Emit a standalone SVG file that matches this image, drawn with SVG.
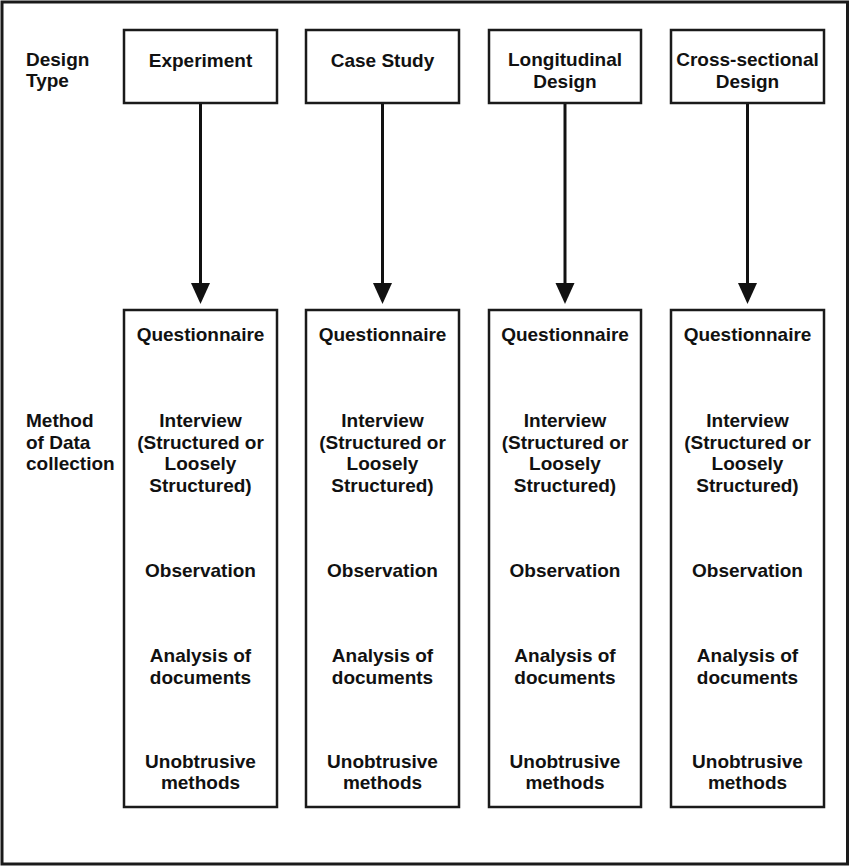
<svg xmlns="http://www.w3.org/2000/svg" width="850" height="866" viewBox="0 0 850 866">
<style>
.box{fill:#fff;stroke:#1a1a1a;stroke-width:2.5}
text{font-family:"Liberation Sans",Arial,sans-serif;font-weight:bold;font-size:19px;fill:#111}
.c{text-anchor:middle}
.conn line{stroke:#111;stroke-width:3}
</style>
<defs>
<marker id="ah" markerUnits="userSpaceOnUse" markerWidth="20" markerHeight="22" refX="10" refY="21" orient="auto-start-reverse" viewBox="0 0 20 22">
<path d="M0,0 L20,0 L10,22 Z" fill="#111" transform="rotate(0)"/>
</marker>
</defs>
<rect x="0" y="0" width="850" height="866" fill="#fff"/>
<rect x="2" y="2" width="845.5" height="862" fill="none" stroke="#1a1a1a" stroke-width="3"/>
<g id="labels">
<text x="26" y="66">Design</text>
<text x="26" y="87">Type</text>
<text x="26" y="427">Method</text>
<text x="26" y="449">of Data</text>
<text x="26" y="470">collection</text>
</g>
<g class="conn" id="connectors">
<line x1="200.5" y1="103" x2="200.5" y2="284"/>
<path d="M191,283 L210,283 L200.5,304 Z" fill="#111"/>
<line x1="382.5" y1="103" x2="382.5" y2="284"/>
<path d="M373,283 L392,283 L382.5,304 Z" fill="#111"/>
<line x1="565" y1="103" x2="565" y2="284"/>
<path d="M555.5,283 L574.5,283 L565,304 Z" fill="#111"/>
<line x1="747.5" y1="103" x2="747.5" y2="284"/>
<path d="M738,283 L757,283 L747.5,304 Z" fill="#111"/>
</g>
<g id="top-experiment"><rect class="box" x="124" y="30" width="153" height="73"/><text class="c" x="200.5" y="67">Experiment</text></g>
<g id="top-casestudy"><rect class="box" x="306" y="30" width="153" height="73"/><text class="c" x="382.5" y="67">Case Study</text></g>
<g id="top-longitudinal"><rect class="box" x="489" y="30" width="152" height="73"/><text class="c" x="565" y="66">Longitudinal</text><text class="c" x="565" y="88">Design</text></g>
<g id="top-cross"><rect class="box" x="671" y="30" width="153" height="73"/><text class="c" x="747.5" y="66">Cross-sectional</text><text class="c" x="747.5" y="88">Design</text></g>
<g id="m1"><rect class="box" x="124" y="310" width="153" height="497"/>
<text class="c" x="200.5" y="341">Questionnaire</text>
<text class="c" x="200.5" y="427">Interview</text><text class="c" x="200.5" y="449">(Structured or</text><text class="c" x="200.5" y="470">Loosely</text><text class="c" x="200.5" y="492">Structured)</text>
<text class="c" x="200.5" y="577">Observation</text>
<text class="c" x="200.5" y="662">Analysis of</text><text class="c" x="200.5" y="684">documents</text>
<text class="c" x="200.5" y="768">Unobtrusive</text><text class="c" x="200.5" y="789">methods</text></g>
<g id="m2"><rect class="box" x="306" y="310" width="153" height="497"/>
<text class="c" x="382.5" y="341">Questionnaire</text>
<text class="c" x="382.5" y="427">Interview</text><text class="c" x="382.5" y="449">(Structured or</text><text class="c" x="382.5" y="470">Loosely</text><text class="c" x="382.5" y="492">Structured)</text>
<text class="c" x="382.5" y="577">Observation</text>
<text class="c" x="382.5" y="662">Analysis of</text><text class="c" x="382.5" y="684">documents</text>
<text class="c" x="382.5" y="768">Unobtrusive</text><text class="c" x="382.5" y="789">methods</text></g>
<g id="m3"><rect class="box" x="489" y="310" width="152" height="497"/>
<text class="c" x="565" y="341">Questionnaire</text>
<text class="c" x="565" y="427">Interview</text><text class="c" x="565" y="449">(Structured or</text><text class="c" x="565" y="470">Loosely</text><text class="c" x="565" y="492">Structured)</text>
<text class="c" x="565" y="577">Observation</text>
<text class="c" x="565" y="662">Analysis of</text><text class="c" x="565" y="684">documents</text>
<text class="c" x="565" y="768">Unobtrusive</text><text class="c" x="565" y="789">methods</text></g>
<g id="m4"><rect class="box" x="671" y="310" width="153" height="497"/>
<text class="c" x="747.5" y="341">Questionnaire</text>
<text class="c" x="747.5" y="427">Interview</text><text class="c" x="747.5" y="449">(Structured or</text><text class="c" x="747.5" y="470">Loosely</text><text class="c" x="747.5" y="492">Structured)</text>
<text class="c" x="747.5" y="577">Observation</text>
<text class="c" x="747.5" y="662">Analysis of</text><text class="c" x="747.5" y="684">documents</text>
<text class="c" x="747.5" y="768">Unobtrusive</text><text class="c" x="747.5" y="789">methods</text></g>
</svg>
